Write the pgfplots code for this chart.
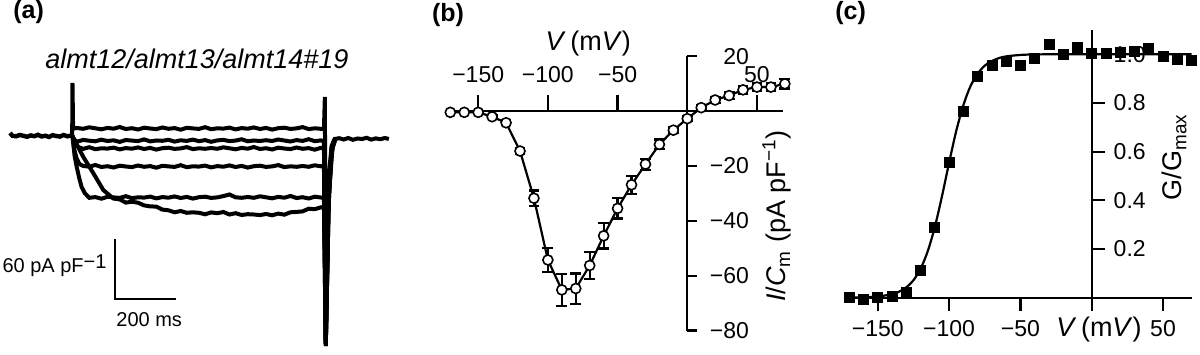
\documentclass[border=0pt]{standalone}
\usepackage{fontspec}
\setmainfont{Liberation Sans}
\usepackage{pgfplots}
\pgfplotsset{compat=1.18}
\newcommand\tickfont{\fontsize{11.5}{13}\selectfont}
\newcommand\labfont{\fontsize{13.5}{15}\selectfont}
\newcommand\barfont{\fontsize{10}{12}\selectfont}
\newcommand\panfont{\fontsize{12.5}{14}\selectfont\bfseries}
\begin{document}
\begin{tikzpicture}
\useasboundingbox (0,0) rectangle (600pt,177pt);
% ---------------- panel labels
\node[anchor=base west, inner sep=0pt, font=\panfont] at (6.5pt,167.5pt) {(a)};
\node[anchor=base west, inner sep=0pt, font=\panfont] at (215.8pt,166.2pt) {(b)};
\node[anchor=base west, inner sep=0pt, font=\panfont] at (417.5pt,167pt) {(c)};
% ---------------- (a) traces
\begin{axis}[at={(5pt,1.5pt)}, anchor=south west, x=0.1524pt, y=0.5pt,
  xmin=0, xmax=1245, ymin=-215, ymax=60, hide axis, clip=false]
% pre-pulse baseline
\addplot[black, line width=2.2pt] coordinates {(0,3)(8,0.2)(20,-0.3)(32,1.0)(44,0.2)(56,-0.8)(68,0.6)(80,-0.2)(92,1.2)(104,-0.5)(116,0.3)(128,-1.0)(140,0.8)(152,0)(164,-0.6)(176,1.0)(188,-0.3)(200,0.4)(204,0)};
% trace 1 (top) with capacitive spikes and post-pulse baseline
\addplot[black, line width=2pt] coordinates {(204,0)(205,53)(207,7.5)(220,8)(240,7.2)(260,8.7)(280,7.7)(300,6.7)(320,8.1)(340,7.3)(360,9)(380,7)(400,7.8)(420,6.5)(440,8.3)(460,7.5)(480,6.9)(500,8.5)(520,7.2)(540,7.9)(560,6.3)(580,8.2)(600,7.6)(620,7.1)(640,8.8)(660,6.8)(680,7.7)(700,7.4)(720,8.4)(740,6.6)(760,7.9)(780,7.3)(800,8.6)(820,7)(840,8.1)(860,6.4)(880,7.8)(900,8.3)(920,7.1)(940,7.6)(960,8.9)(980,6.9)(1000,7.7)(1020,7.2)(1030,7)(1033,39)(1036,-209)(1040,-120)(1046,-40)(1055,-10)(1065,-3)(1080,-2.2)(1095,-3.5)(1110,-2)(1125,-3.8)(1140,-2.5)(1155,-3)(1170,-1.8)(1185,-3.6)(1200,-2.4)(1215,-3.2)(1230,-2)(1243,-3)};
% trace 2
\addplot[black, line width=2pt] coordinates {(205,0)(210,-3.5)(220,-5.7)(240,-3.9)(260,-4.7)(280,-5.3)(300,-3.7)(320,-5.0)(340,-4.3)(360,-5.9)(380,-4.0)(400,-4.6)(420,-5.1)(440,-3.4)(460,-5.4)(480,-4.5)(500,-4.8)(520,-3.8)(540,-5.6)(560,-4.3)(580,-4.9)(600,-3.6)(620,-5.2)(640,-4.1)(660,-5.8)(680,-4.4)(700,-3.9)(720,-5.1)(740,-4.6)(760,-3.3)(780,-5.3)(800,-4.5)(820,-5.0)(840,-4.2)(860,-5.0)(880,-3.5)(900,-4.5)(920,-5.5)(940,-4.1)(960,-4.9)(980,-3.2)(1000,-5.2)(1020,-4.4)(1030,-5)(1036,-205)(1045,-60)(1055,-12)(1068,-3)};
% trace 3
\addplot[black, line width=2pt] coordinates {(205,0)(212,-7)(224,-11)(240,-12.9)(260,-11.2)(280,-13.2)(300,-12.3)(320,-12.6)(340,-11.6)(360,-13.4)(380,-12.1)(400,-12.7)(420,-11.4)(440,-13.0)(460,-11.9)(480,-13.6)(500,-12.2)(520,-11.7)(540,-12.9)(560,-12.4)(580,-11.1)(600,-13.1)(620,-12.3)(640,-12.8)(660,-12.0)(680,-12.8)(700,-11.3)(720,-12.3)(740,-13.3)(760,-11.9)(780,-12.7)(800,-11.0)(820,-13.0)(840,-12.2)(860,-13.5)(880,-11.7)(900,-12.5)(920,-13.1)(940,-11.5)(960,-12.8)(980,-12.1)(1000,-13.7)(1020,-11.8)(1030,-12)(1036,-208)(1044,-80)(1052,-25)(1062,-5)};
% trace 4
\addplot[black, line width=2pt] coordinates {(205,0)(210,-12)(218,-22)(228,-28)(240,-29.9)(260,-30.7)(280,-29.0)(300,-31.0)(320,-30.2)(340,-31.5)(360,-29.7)(380,-30.5)(400,-31.1)(420,-29.5)(440,-30.8)(460,-30.1)(480,-31.7)(500,-29.8)(520,-30.4)(540,-30.9)(560,-29.2)(580,-31.2)(600,-30.3)(620,-30.6)(640,-29.6)(660,-31.4)(680,-30.1)(700,-30.7)(720,-29.4)(740,-31.0)(760,-29.9)(780,-31.6)(800,-30.2)(820,-29.7)(840,-30.9)(860,-30.4)(880,-29.1)(900,-31.1)(920,-30.3)(940,-30.8)(960,-30.0)(980,-30.8)(1000,-29.3)(1020,-30.3)(1030,-30)(1036,-208)(1045,-70)(1055,-15)(1066,-4)};
% trace 5 (fast activation)
\addplot[black, line width=2pt] coordinates {(205,0)(212,-20)(219,-31)(227,-42)(235,-51)(245,-57)(260,-61.8)(280,-61.1)(300,-62.7)(320,-60.8)(340,-61.4)(360,-61.9)(380,-60.2)(400,-62.2)(420,-61.3)(440,-61.6)(460,-60.6)(480,-62.4)(500,-61.1)(520,-61.7)(540,-60.4)(560,-62.0)(580,-60.9)(600,-62.6)(620,-61.2)(640,-60.7)(660,-61.9)(680,-61.4)(700,-60.1)(720,-58.5)(740,-61.3)(760,-61.8)(780,-61.0)(800,-61.8)(820,-60.3)(840,-61.3)(860,-62.3)(880,-60.9)(900,-61.7)(920,-60.0)(940,-62.0)(960,-61.2)(980,-62.5)(1000,-60.7)(1020,-61.5)(1030,-62)(1036,-210)(1046,-60)(1056,-12)(1066,-3)};
% trace 6 (slow activation)
\addplot[black, line width=2pt] coordinates {(205,0)(215,-6)(240,-20.7)(273,-37)(306,-54)(339,-62.5)(360,-63.4)(380,-66.6)(400,-65.7)(420,-66.7)(440,-69.4)(460,-70.4)(480,-70.6)(500,-73.6)(520,-74.3)(540,-76.3)(560,-75.0)(580,-76.8)(600,-76.3)(620,-76.8)(640,-78.3)(660,-76.4)(680,-77.2)(700,-76.0)(720,-78.5)(740,-77.2)(760,-79.0)(780,-78.2)(800,-78.5)(820,-79.1)(840,-78.0)(860,-79.3)(880,-77.6)(900,-78.7)(920,-76.3)(940,-75.9)(960,-75.4)(980,-72.7)(1000,-73.2)(1020,-71.3)(1030,-71)(1036,-210)(1046,-60)(1058,-12)(1068,-3)};
% scale bar
\addplot[black, line width=1.1pt] coordinates {(344,-103)(344,-163.3)(545,-163.3)};
\node[anchor=base east, inner sep=0pt, font=\barfont] at (axis cs:318,-137) {60 pA pF\raisebox{0.45ex}{−1}};
\node[anchor=base west, inner sep=0pt, font=\barfont] at (axis cs:347.7,-190.7) {200 ms};
\node[anchor=base, inner sep=0pt, font=\labfont\itshape] at (axis cs:613.4,67.7) {almt12/almt13/almt14\#19};
\end{axis}
% ---------------- (b) I-V
\begin{axis}[at={(225.15pt,11.75pt)}, anchor=south west, x=0.697pt, y=1.372pt,
  xmin=-170, xmax=69, ymin=-80, ymax=20,
  axis lines=middle, axis line style={-, line width=1.1pt, black},
  enlargelimits=false, clip=false,
  xtick={-150,-100,-50,50}, xticklabels={−150,−100,−50,50},
  ytick={-80,-60,-40,-20,20}, yticklabels={−80,−60,−40,−20,20},
  major tick length=0pt, tick style={draw=none},
  xticklabel style={anchor=base, yshift=14pt, font=\tickfont, inner sep=0pt},
  yticklabel style={anchor=east, xshift=31pt, font=\tickfont, inner sep=0pt},
]
\draw[line width=1.1pt] (axis cs:-150,0) -- ([yshift=8pt]axis cs:-150,0);
\draw[line width=1.1pt] (axis cs:-100,0) -- ([yshift=8pt]axis cs:-100,0);
\draw[line width=1.1pt] (axis cs:-50,0) -- ([yshift=8pt]axis cs:-50,0);
\draw[line width=1.1pt] (axis cs:50,0) -- ([yshift=8pt]axis cs:50,0);
\draw[line width=1.1pt] (axis cs:0,-80) -- ([xshift=5pt]axis cs:0,-80);
\draw[line width=1.1pt] (axis cs:0,-60) -- ([xshift=5pt]axis cs:0,-60);
\draw[line width=1.1pt] (axis cs:0,-40) -- ([xshift=5pt]axis cs:0,-40);
\draw[line width=1.1pt] (axis cs:0,-20) -- ([xshift=5pt]axis cs:0,-20);
\draw[line width=1.1pt] (axis cs:0,20) -- ([xshift=5pt]axis cs:0,20);
\addplot[black, line width=1.1pt, mark=*, mark size=2.5pt,
  mark options={fill=white, draw=black, line width=0.8pt},
  error bars/.cd, y dir=both, y explicit,
  error bar style={line width=1.1pt, black},
  error mark options={rotate=90, mark size=2.7pt, line width=1.1pt, black}]
  table[x=x, y=y, y error=e] {
x y e
-170 -0.5 0
-160 -0.5 0
-150 -0.5 0
-140 -2.1 0.5
-130 -4.3 0.8
-120 -14.6 1.2
-110 -31.8 2.8
-100 -54.3 4.3
-90 -65.2 5.8
-80 -64.7 5.5
-70 -56.3 4.9
-60 -45.5 4.6
-50 -35.5 3.7
-40 -26.9 3.3
-30 -19.4 2.0
-20 -12.2 1.8
-10 -7.0 1.0
0 -2.8 1.0
10 1.2 0.8
20 4.0 1.0
30 5.6 1.2
40 7.7 1.3
50 8.7 1.5
60 8.7 1.5
70 9.9 1.7
};
\node[anchor=base, inner sep=0pt, font=\labfont] at (axis cs:-71,22.2) {\textit{V}\,(m\textit{V})};
\node[rotate=90, inner sep=0pt, font=\labfont] at (axis cs:64.3,-38.3) {\textit{I}/\textit{C}\textsubscript{m} (pA pF\textsuperscript{−1})};
\end{axis}
% ---------------- (c) G/Gmax
\begin{axis}[at={(424.65pt,28.15pt)}, anchor=south west, x=0.713pt, y=121.75pt,
  xmin=-170, xmax=70, ymin=0, ymax=1.1,
  axis lines=middle, axis line style={-, line width=1.1pt, black},
  enlargelimits=false, clip=false,
  xtick={-150,-100,-50,50}, xticklabels={−150,−100,−50,50},
  ytick={0.2,0.4,0.6,0.8,1.0}, yticklabels={0.2,0.4,0.6,0.8,1.0},
  major tick length=0pt, tick style={draw=none},
  xticklabel style={anchor=base, yshift=-19.5pt, font=\tickfont, inner sep=0pt},
  yticklabel style={anchor=west, xshift=10.8pt, font=\tickfont, inner sep=0pt},
]
\draw[line width=1.1pt] (axis cs:-150,0) -- ([yshift=-6.5pt]axis cs:-150,0);
\draw[line width=1.1pt] (axis cs:-100,0) -- ([yshift=-6.5pt]axis cs:-100,0);
\draw[line width=1.1pt] (axis cs:-50,0) -- ([yshift=-6.5pt]axis cs:-50,0);
\draw[line width=1.1pt] (axis cs:0,0) -- ([yshift=-6.5pt]axis cs:0,0);
\draw[line width=1.1pt] (axis cs:50,0) -- ([yshift=-6.5pt]axis cs:50,0);
\draw[line width=1.1pt] (axis cs:0,0.2) -- ([xshift=6.5pt]axis cs:0,0.2);
\draw[line width=1.1pt] (axis cs:0,0.4) -- ([xshift=6.5pt]axis cs:0,0.4);
\draw[line width=1.1pt] (axis cs:0,0.6) -- ([xshift=6.5pt]axis cs:0,0.6);
\draw[line width=1.1pt] (axis cs:0,0.8) -- ([xshift=6.5pt]axis cs:0,0.8);
\draw[line width=1.1pt] (axis cs:0,1.0) -- ([xshift=6.5pt]axis cs:0,1.0);
\addplot[black, line width=1.1pt, smooth] coordinates {(-170,0.0005)(-160,0.0016)(-150,0.0048)(-140,0.0145)(-135,0.0249)(-130,0.0427)(-125,0.072)(-120,0.119)(-115,0.191)(-110,0.291)(-105,0.417)(-100,0.555)(-95,0.685)(-90,0.791)(-85,0.869)(-80,0.920)(-75,0.953)(-70,0.972)(-65,0.984)(-60,0.991)(-50,0.997)(-40,0.999)(-20,1.0)(0,1.0)(70,1.0)};
\addplot[only marks, mark=square*, mark size=2.5pt, black] table {
-170 0.0
-160 -0.005
-150 0.0
-140 0.007
-130 0.022
-120 0.114
-110 0.287
-100 0.556
-90 0.767
-80 0.908
-70 0.953
-60 0.969
-50 0.956
-40 0.983
-30 1.040
-20 1.001
-10 1.027
0 1.004
10 1.004
20 1.008
30 1.010
40 1.024
50 0.993
60 0.980
70 0.976
};
\node[anchor=base, inner sep=0pt, font=\labfont] at (axis cs:5.1,0) [yshift=-19.5pt] {\textit{V}\,(m\textit{V})};
\node[rotate=90, inner sep=0pt, font=\labfont] at (axis cs:58,0.578) {G/G\textsubscript{max}};
\end{axis}
\end{tikzpicture}
\end{document}
